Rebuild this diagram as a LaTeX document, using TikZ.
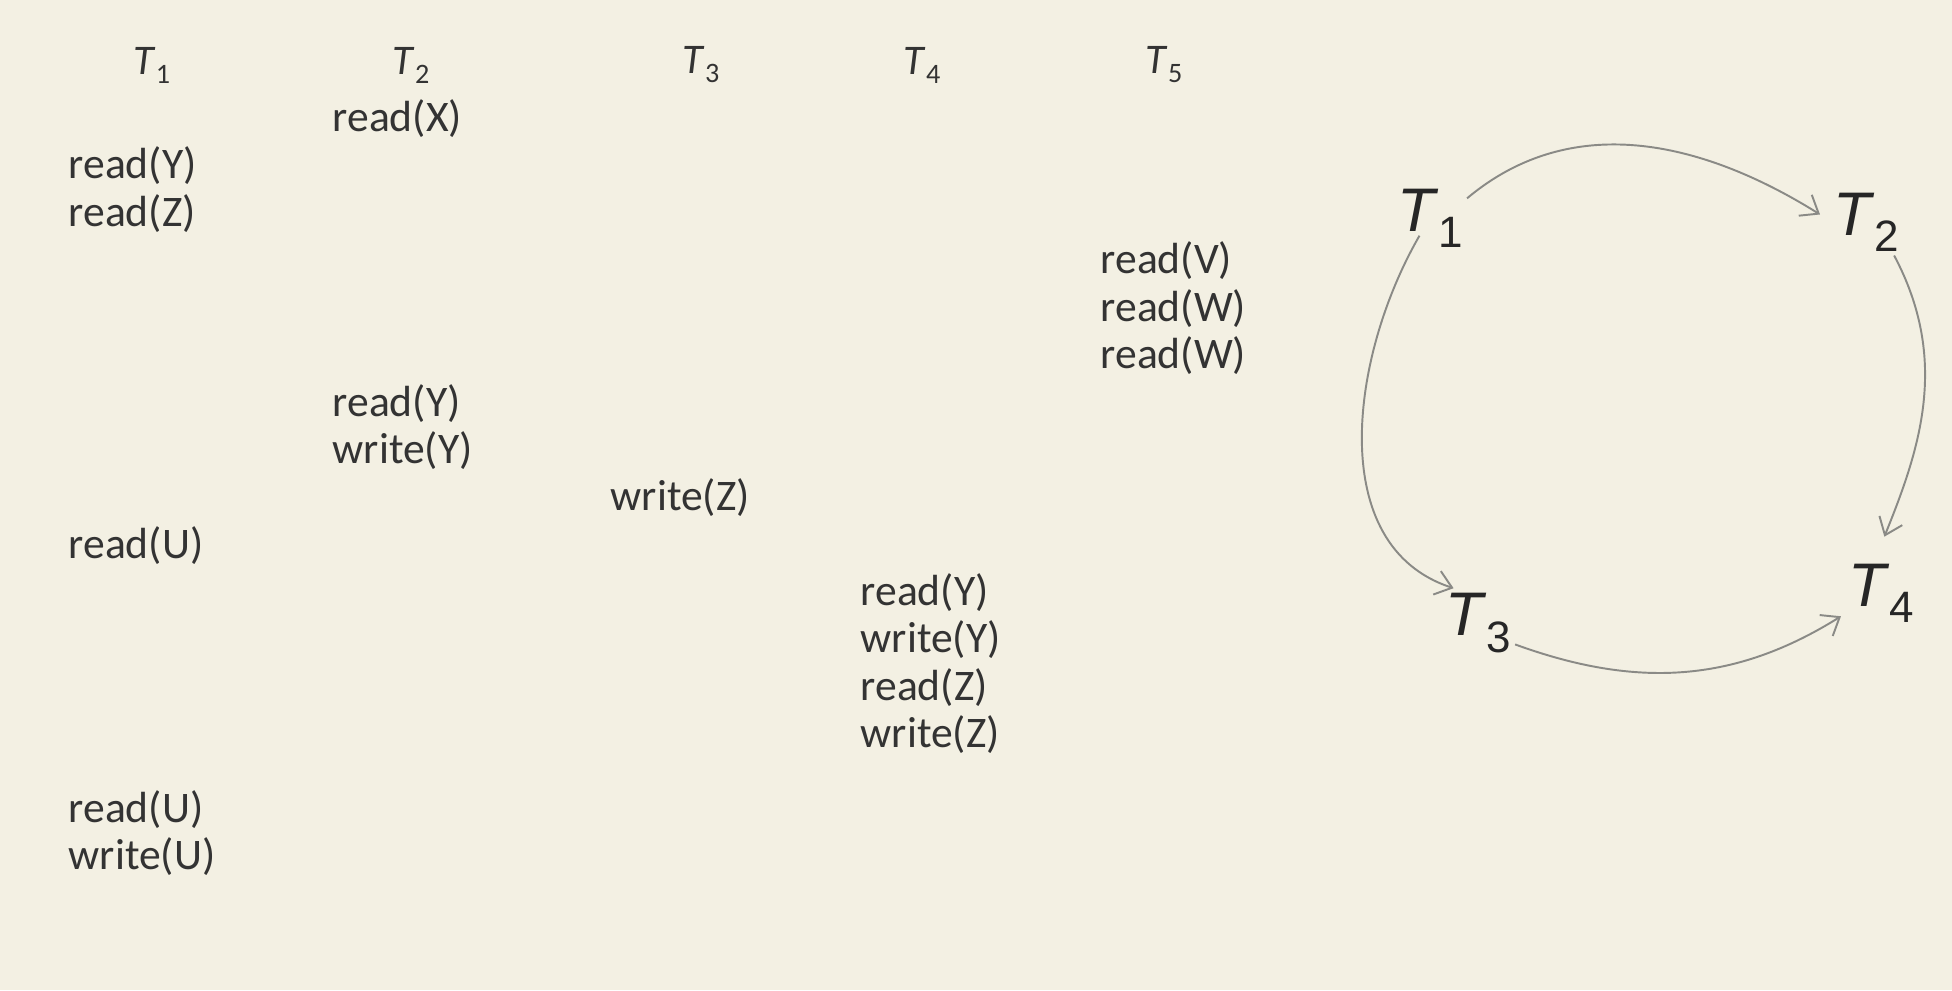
\documentclass[tikz,border=0pt]{standalone}
\usepackage{fontspec}
\setmainfont{Carlito}
\newfontfamily\arialfont{Liberation Sans}
\usetikzlibrary{arrows.meta}
\definecolor{bgc}{HTML}{F3F0E3}
\definecolor{txt}{HTML}{333333}
\definecolor{edgec}{HTML}{8A8A86}
\tikzset{
  op/.style={anchor=west, inner sep=0pt, text=txt, font=\fontsize{12.4}{14}\selectfont},
  hdr/.style={inner sep=0pt, text=txt, font=\fontsize{12}{14}\selectfont},
  gnode/.style={inner sep=1pt, text=black!85, font=\arialfont\fontsize{17.5}{20}\selectfont},
  edge/.style={draw=edgec, line width=0.55pt, -{Straight Barb[length=4.5pt,width=7pt]}}
}
\newcommand{\tsub}[1]{\textit{T}\raisebox{-0.45ex}{\fontsize{8}{9}\selectfont #1}}
\newcommand{\gsub}[1]{\textit{T}\raisebox{-0.5ex}{\fontsize{12.5}{14}\selectfont #1}}
\begin{document}
\begin{tikzpicture}[x=0.01cm,y=-0.01cm]
\fill[bgc] (0,0) rectangle (1952,990);
\useasboundingbox (0,0) rectangle (1952,990);
% headers
\node[hdr] (h1) at (152,65) {\tsub{1}};
\node[hdr] (h2) at (411,65) {\tsub{2}};
\node[hdr] (h3) at (701,65) {\tsub{3}};
\node[hdr] (h4) at (922,65) {\tsub{4}};
\node[hdr] (h5) at (1164,65) {\tsub{5}};
% operations
\node[op] (o1)  at (332,119) {read(X)};
\node[op] (o2)  at (68,166)  {read(Y)};
\node[op] (o3)  at (68,214)  {read(Z)};
\node[op] (o4)  at (1100,261) {read(V)};
\node[op] (o5)  at (1100,309) {read(W)};
\node[op] (o6)  at (1100,356) {read(W)};
\node[op] (o7)  at (332,404) {read(Y)};
\node[op] (o8)  at (332,451) {write(Y)};
\node[op] (o9)  at (610,498) {write(Z)};
\node[op] (o10) at (68,546)  {read(U)};
\node[op] (o11) at (860,593) {read(Y)};
\node[op] (o12) at (860,640) {write(Y)};
\node[op] (o13) at (860,688) {read(Z)};
\node[op] (o14) at (860,735) {write(Z)};
\node[op] (o15) at (68,810)  {read(U)};
\node[op] (o16) at (68,857)  {write(U)};
% precedence graph
\node[gnode] (g1) at (1430,218) {\gsub{1}};
\node[gnode] (g2) at (1866,222) {\gsub{2}};
\node[gnode] (g3) at (1478,623) {\gsub{3}};
\node[gnode] (g4) at (1881,593) {\gsub{4}};
\draw[edge, shorten >=3pt] (g1.28) to[out=40,in=148] (g2.177);
\draw[edge, shorten >=7pt] (g2.-50) to[out=-62,in=68] (g4.100);
\draw[edge, shorten >=1pt] ([xshift=-3pt,yshift=4.5pt]g1.south) to[out=-120,in=162] (g3.122);
\draw[edge, shorten >=1pt] (g3.-30) to[out=-20,in=-148] (g4.-150);
\end{tikzpicture}
\end{document}
